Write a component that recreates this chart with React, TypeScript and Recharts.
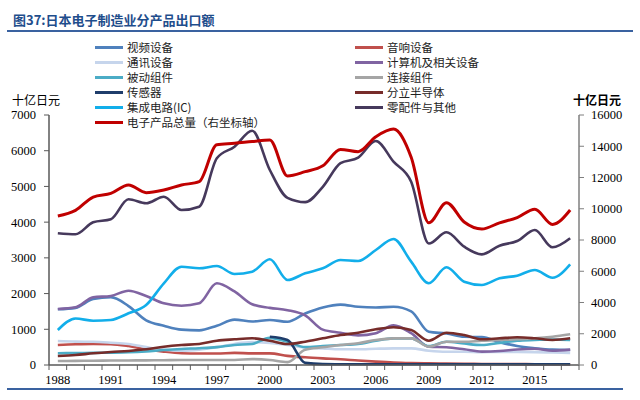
import React from 'react';
import { LineChart, Line, XAxis, YAxis, Legend } from 'recharts';

const YEARS = [1988,1989,1990,1991,1992,1993,1994,1995,1996,1997,1998,1999,2000,2001,2002,2003,2004,2005,2006,2007,2008,2009,2010,2011,2012,2013,2014,2015,2016,2017];

const VIDEO = [1560,1600,1850,1900,1650,1250,1100,990,970,1100,1270,1220,1260,1210,1440,1610,1690,1630,1610,1630,1500,930,880,790,780,640,530,470,430,420];
const AUDIO = [560,580,590,585,530,440,375,330,320,320,340,325,325,255,215,185,160,125,95,70,55,45,40,35,30,28,25,22,20,20];
const TELECOM = [670,655,650,625,590,500,425,400,430,500,590,640,620,560,495,465,440,440,455,465,465,400,370,370,360,365,365,360,350,340];
const COMPUTER = [1568,1615,1895,1932,2081,1932,1727,1661,1727,2287,2060,1700,1600,1535,1390,990,905,830,890,1110,890,510,495,440,375,390,435,455,400,430];
const PASSIVE = [330,335,340,345,355,380,420,450,470,500,560,590,760,650,500,530,560,590,680,745,745,530,650,600,560,620,680,700,715,700];
const CONNECTOR = [110,115,120,125,128,130,135,140,140,140,140,165,140,80,430,495,560,610,700,745,745,515,650,650,680,700,720,745,790,860];
const SENSOR = [null,null,null,null,null,null,null,null,null,null,null,null,790,700,60,25,22,20,20,20,20,20,20,20,20,20,20,20,20,20];
const DISCRETE = [252,280,327,364,392,439,513,560,588,681,719,747,681,588,653,747,840,905,999,1055,980,681,905,840,719,747,775,747,700,747];
const IC = [980,1300,1240,1260,1447,1680,2287,2753,2707,2772,2548,2613,2959,2380,2567,2707,2940,2912,3220,3528,2893,2287,2735,2333,2240,2427,2501,2660,2445,2819];
const PARTS = [3687,3660,3995,4079,4639,4527,4713,4340,4433,5787,6113,6560,5460,4680,4560,4990,5650,5805,6272,5693,5133,3400,3715,3313,3098,3341,3472,3780,3295,3547];
const TOTAL = [9536,9900,10750,10986,11520,11030,11200,11520,11733,14100,14186,14300,14400,12100,12373,12750,13800,13650,14610,15100,13300,9100,10390,9150,8700,9100,9430,9970,9000,9920];

const LEFT_TICKS = [0,1000,2000,3000,4000,5000,6000,7000];
const RIGHT_TICKS = [0,2000,4000,6000,8000,10000,12000,14000,16000];

const TITLE = '图37:日本电子制造业分产品出口额';
const UNIT = '十亿日元';

// Series in legend (row-major) / drawing order
const SERIES = [
  { key: 'video', name: '视频设备', color: '#4F81BD', values: VIDEO, axis: 'left' },
  { key: 'audio', name: '音响设备', color: '#C0504D', values: AUDIO, axis: 'left' },
  { key: 'telecom', name: '通讯设备', color: '#C6D5EC', values: TELECOM, axis: 'left' },
  { key: 'computer', name: '计算机及相关设备', color: '#8064A2', values: COMPUTER, axis: 'left' },
  { key: 'passive', name: '被动组件', color: '#4BACC6', values: PASSIVE, axis: 'left' },
  { key: 'connector', name: '连接组件', color: '#A5A5A5', values: CONNECTOR, axis: 'left' },
  { key: 'sensor', name: '传感器', color: '#1F3D6B', values: SENSOR, axis: 'left' },
  { key: 'discrete', name: '分立半导体', color: '#772C2A', values: DISCRETE, axis: 'left' },
  { key: 'ic', name: '集成电路(IC)', color: '#12AEEA', values: IC, axis: 'left' },
  { key: 'parts', name: '零配件与其他', color: '#46395C', values: PARTS, axis: 'left' },
  { key: 'total', name: '电子产品总量（右坐标轴）', color: '#C00000', values: TOTAL, axis: 'right' },
];

const data = YEARS.map((y, i) => {
  const row: any = { year: y };
  SERIES.forEach((s) => { row[s.key] = s.values[i]; });
  return row;
});

const SERIF = '"Liberation Serif", "Times New Roman", serif';
const CJK = '"Noto Sans CJK SC", sans-serif';
const AXIS_COLOR = '#595959';

function XTick(props: any) {
  const { x, y, payload, index, width } = props;
  const half = (width || 530) / YEARS.length / 2;
  return (
    <g>
      <line x1={x - half} x2={x - half} y1={y} y2={y + 5} stroke={AXIS_COLOR} strokeWidth={1} />
      {index === YEARS.length - 1 && (
        <line x1={x + half} x2={x + half} y1={y} y2={y + 5} stroke={AXIS_COLOR} strokeWidth={1} />
      )}
      {index % 3 === 0 && (
        <text x={x} y={y + 19} textAnchor="middle" fontFamily={SERIF} fontSize={12.5} fill="#000">
          {payload.value}
        </text>
      )}
    </g>
  );
}

function LegendContent(props: any) {
  const order = SERIES.map((s) => s.name);
  const payload = [...(props.payload || [])].sort(
    (a: any, b: any) => order.indexOf(a.value) - order.indexOf(b.value)
  );
  return (
    <div style={{ display: 'grid', gridTemplateColumns: '260px 260px', gridAutoRows: '15px' }}>
      {payload.map((p: any) => (
        <div key={p.value} style={{ display: 'flex', alignItems: 'center', height: 15, overflow: 'visible' }}>
          <span style={{ display: 'inline-block', width: 28, height: 3, background: p.color, marginRight: 4, flex: 'none' }} />
          <span style={{ fontFamily: CJK, fontSize: 11.5, color: '#222', whiteSpace: 'nowrap', lineHeight: '13px' }}>{p.value}</span>
        </div>
      ))}
    </div>
  );
}

export default function App() {
  return (
    <div style={{ position: 'absolute', left: 0, top: 0, width: 640, height: 400, background: '#fff', overflow: 'hidden' }}>
      <div style={{ position: 'absolute', left: 13, top: 11, fontFamily: CJK, fontWeight: 700, fontSize: 13, color: '#1F4E8C', whiteSpace: 'nowrap', lineHeight: '18px' }}>
        {TITLE}
      </div>
      <div style={{ position: 'absolute', left: 7, top: 30, width: 626, height: 2, background: '#3A62A0' }} />
      <div style={{ position: 'absolute', left: 7, top: 388, width: 616, height: 2, background: '#3A62A0' }} />
      <div style={{ position: 'absolute', left: 12, top: 92, fontFamily: CJK, fontSize: 12, color: '#000', whiteSpace: 'nowrap', lineHeight: '16px' }}>
        {UNIT}
      </div>
      <div style={{ position: 'absolute', left: 573, top: 92, fontFamily: CJK, fontWeight: 700, fontSize: 12, color: '#000', whiteSpace: 'nowrap', lineHeight: '16px' }}>
        {UNIT}
      </div>
      <LineChart
        width={640}
        height={400}
        data={data}
        margin={{ top: 115, right: 0, bottom: 0, left: 0 }}
        style={{ position: 'absolute', left: 0, top: 0 }}
      >
        <XAxis
          dataKey="year"
          type="category"
          interval={0}
          height={35}
          padding={{ left: 530 / 60, right: 530 / 60 }}
          tickLine={false}
          tickSize={0}
          tickMargin={0}
          axisLine={{ stroke: AXIS_COLOR, strokeWidth: 1.5 }}
          tick={<XTick />}
        />
        <YAxis
          yAxisId="left"
          orientation="left"
          width={49}
          domain={[0, 7000]}
          ticks={LEFT_TICKS}
          interval={0}
          tickSize={5}
          tickMargin={8}
          axisLine={{ stroke: AXIS_COLOR, strokeWidth: 1.5 }}
          tickLine={{ stroke: AXIS_COLOR }}
          tick={{ fontFamily: SERIF, fontSize: 12.5, fill: '#000' }}
        />
        <YAxis
          yAxisId="right"
          orientation="right"
          width={61}
          domain={[0, 16000]}
          ticks={RIGHT_TICKS}
          interval={0}
          tickSize={5}
          tickMargin={7}
          axisLine={{ stroke: '#7F7F7F', strokeWidth: 1.5 }}
          tickLine={{ stroke: '#7F7F7F' }}
          tick={{ fontFamily: SERIF, fontSize: 12.5, fill: '#000' }}
        />
        <Legend
          layout="vertical"
          align="center"
          verticalAlign="middle"
          wrapperStyle={{ left: 95, top: 40, width: 540 }}
          content={<LegendContent />}
        />
        {SERIES.map((s) => (
          <Line
            key={s.key}
            yAxisId={s.axis}
            dataKey={s.key}
            name={s.name}
            type="monotone"
            stroke={s.color}
            strokeWidth={s.key === 'total' ? 3 : 2.6}
            dot={false}
            activeDot={false}
            connectNulls={false}
            isAnimationActive={false}
          />
        ))}
      </LineChart>
    </div>
  );
}
